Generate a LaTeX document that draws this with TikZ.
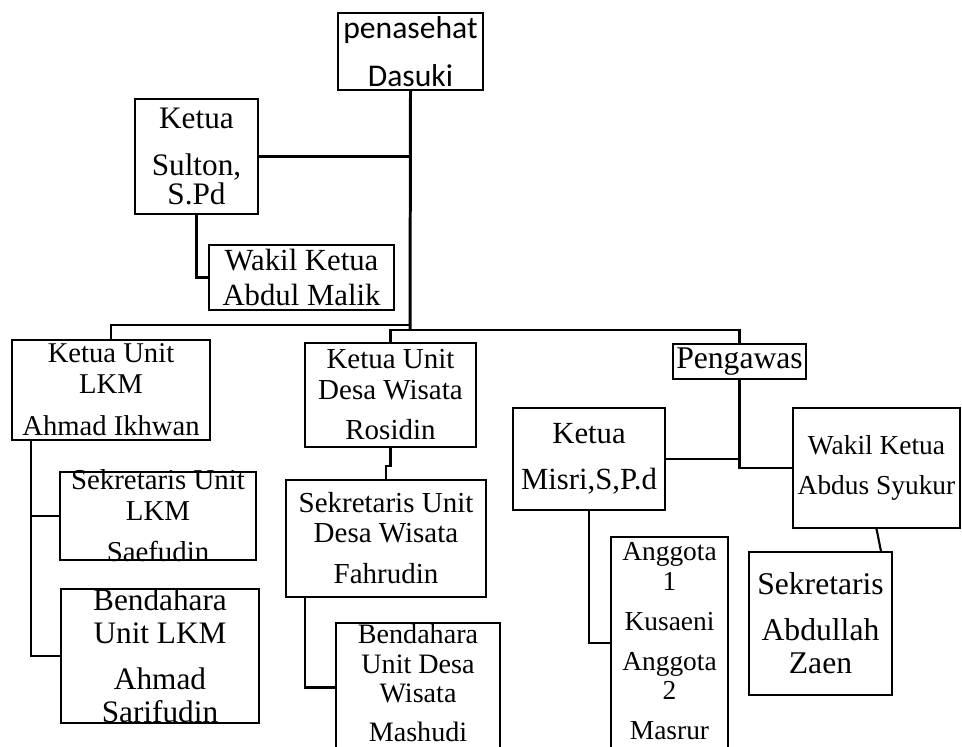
\documentclass[tikz,border=0pt]{standalone}
\usepackage{fontspec}
\setmainfont{Liberation Serif}
\newfontfamily\calibrifont{Carlito}
\usetikzlibrary{calc}

\begin{document}
\begin{tikzpicture}[x=0.02cm, y=-0.02cm, every node/.style={inner sep=0pt, align=center}]
        \tikzset{box/.style={draw, line width=1.1pt}}
        \tikzset{boxsize/.style 2 args={minimum width=#1*0.02cm, minimum height=#2*0.02cm}}
        \tikzset{fsz/.style 2 args={font=\fontsize{#1}{#2}\selectfont}}
        \useasboundingbox (0,0) rectangle (962,746);
        \clip (0,0) rectangle (962,746);
        % top level
        \node[box, boxsize={145}{77}, label={[font=\calibrifont\fontsize{18}{18}\selectfont]center:{penasehat\\[9.3pt]Dasuki}}] (penasehat) at (410.5,51.5) {};
        \node[box, boxsize={123}{115}, label={[fsz={17.8}{16.5}]center:{Ketua\\[10.2pt]Sulton,\\S.Pd}}] (sulton) at (196.5,156.5) {};
        \node[box, boxsize={185}{65}, label={[fsz={17.5}{20}]center:{Wakil Ketua\\Abdul Malik}}] (malik) at (301.5,277.5) {};
        % unit LKM
        \node[box, boxsize={198}{100}, label={[fsz={16.3}{17.6}]center:{Ketua Unit\\LKM\\[6.3pt]Ahmad Ikhwan}}] (lkm) at (111,390) {};
        \node[box, boxsize={196}{88}, label={[fsz={16.4}{17.6}]center:{Sekretaris Unit\\LKM\\[5.7pt]Saefudin}}] (sekLKM) at (158,516) {};
        \node[box, boxsize={198}{134}, label={[fsz={17.8}{18.8}]center:{Bendahara\\Unit LKM\\[7.4pt]Ahmad\\Sarifudin}}] (benLKM) at (160,656) {};
        % unit desa wisata
        \node[box, boxsize={171}{104}, label={[fsz={16.5}{17.1}]center:{Ketua Unit\\Desa Wisata\\[6.2pt]Rosidin}}] (desa) at (390.5,395) {};
        \node[box, boxsize={200}{117}, label={[fsz={16.5}{17.1}]center:{Sekretaris Unit\\Desa Wisata\\[6.2pt]Fahrudin}}] (sekDesa) at (386,538.5) {};
        \node[box, boxsize={164}{129}, label={[fsz={16}{16.8}, yshift=2.5pt]center:{Bendahara\\Unit Desa\\Wisata\\[5.4pt]Mashudi}}] (benDesa) at (418,687.5) {};
        % pengawas
        \node[box, boxsize={133}{35}, label={[fsz={18}{18}]center:{Pengawas}}] (pengawas) at (739.5,361.5) {};
        \node[box, boxsize={152}{102}, label={[fsz={17.5}{26.2}]center:{Ketua\\Misri,S,P.d}}] (misri) at (589,459) {};
        \node[box, boxsize={167}{120}, label={[fsz={15.6}{22.8}]center:{Wakil Ketua\\Abdus Syukur}}] (wakil) at (876.5,468) {};
        \node[box, boxsize={143}{143}, label={[fsz={18}{18.8}]center:{Sekretaris\\[7.4pt]Abdullah\\Zaen}}] (sekab) at (820.5,623.5) {};
        \node[box, boxsize={117}{212}, label={[fsz={15.6}{16.8}, yshift=1pt]center:{Anggota\\1\\[6pt]Kusaeni\\[6pt]Anggota\\2\\[6pt]Masrur}}] (anggota) at (669.5,643) {};
        % lines
        \tikzset{link/.style={line width=1.2pt}}
        \coordinate (busL) at (410,325);
        \coordinate (busR) at (410,330);
        \draw[link, line width=1.7pt] (penasehat.south) -- (busR);
        \draw[link] (sulton.east) -- (sulton.east -| penasehat.south);
        \draw[link] (sulton.south) |- (malik.west);
        \draw[link] (lkm.north) |- (busL);
        \draw[link] (desa.north) |- (busR) -| (pengawas.north);
        \draw[link] ($(lkm.south west)+(20,0)$) |- (sekLKM.west);
        \draw[link] ($(lkm.south west)+(20,0)$) |- (benLKM.west);
        \draw[link] (desa.south) -- ++(0,18) -| (sekDesa.north);
        \draw[link] ($(sekDesa.south west)+(20,0)$) |- (benDesa.west);
        \draw[link] (pengawas.south) |- (wakil.west);
        \draw[link] (misri.east) -- (misri.east -| pengawas.south);
        \draw[link] (wakil.south) -- ($(sekab.north east)+(-12,0)$);
        \draw[link] (misri.south) |- (anggota.west);
      \end{tikzpicture}
\end{document}
